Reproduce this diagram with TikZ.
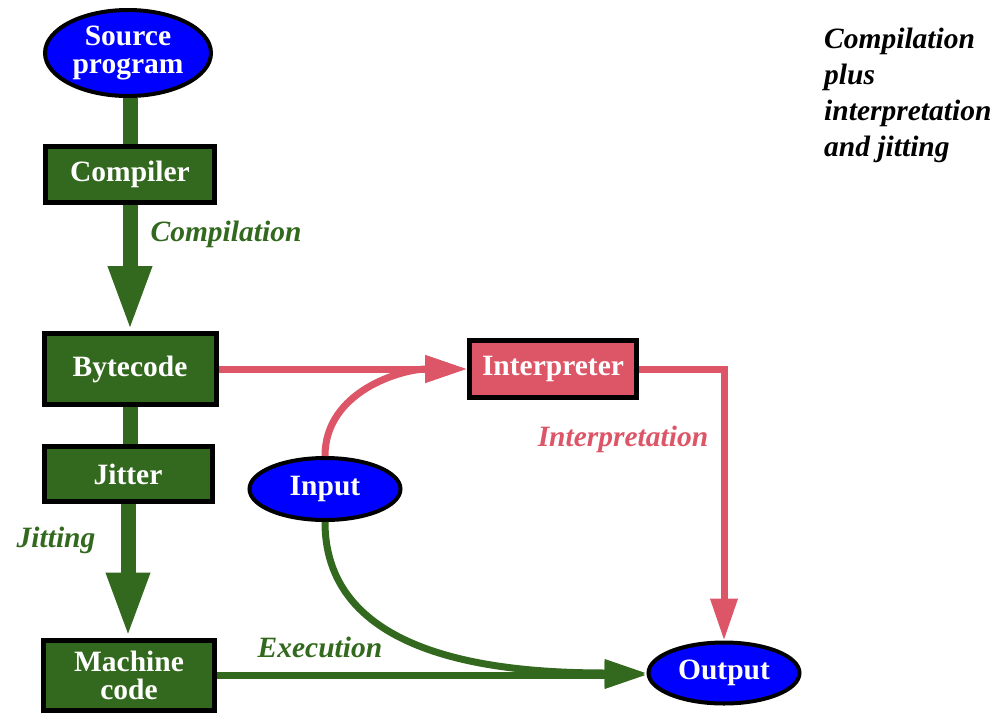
\documentclass[tikz,border=0pt]{standalone}
\usepackage{fontspec}
\setmainfont{Liberation Serif}
\usetikzlibrary{arrows.meta, positioning, calc, shapes.geometric}
\definecolor{JitGreen}{HTML}{33691E}
\definecolor{JitPink}{HTML}{DC5668}
\definecolor{JitBlue}{HTML}{0000FF}

\begin{document}
\begin{tikzpicture}[x=1pt, y=-1pt,
  every node/.style={font=\fontsize{29.5}{28}\selectfont\bfseries},
  stage/.style={draw=black, line width=5pt, fill=JitGreen, text=white, align=center, inner sep=0pt},
  io/.style={ellipse, draw=black, line width=4pt, fill=JitBlue, text=white, align=center, inner sep=0pt},
  iotext/.style={text=white, align=center},
  fat/.style={JitGreen, line width=15pt},
  fatarrow/.style={fat, -{Triangle[length=65pt, width=40pt]}},
  thin/.style={line width=7pt, -{Triangle[length=42pt, width=26pt]}},
  lbl/.style={font=\fontsize{29.5}{28}\selectfont\bfseries\itshape}]
  \useasboundingbox (0,0) rectangle (1002,715);
  % Left column: compiler and jitter chain
  \node[io, minimum width=166pt, minimum height=86pt,
    label={[iotext]center:Source\\program}] (src) at (128,53) {};
  \node[stage, minimum width=169pt, minimum height=56pt] (comp) at (130,174) {Compiler};
  \node[stage, minimum width=172pt, minimum height=71pt] (byte) at (130,369) {Bytecode};
  \node[stage, minimum width=168pt, minimum height=55pt] (jit) at (128,474) {Jitter};
  \node[stage, minimum width=171pt, minimum height=70pt] (mach) at (129,675) {Machine\\code};
  % Right side: interpreter, input and output
  \node[stage, fill=JitPink, minimum width=167pt, minimum height=57pt] (interp) at (553,369) {Interpreter};
  \node[io, minimum width=151pt, minimum height=62pt] (inp) at (325,489) {Input};
  \node[io, minimum width=151pt, minimum height=61pt] (outp) at (724,673) {Output};
  % Fat green arrows
  \draw[fat] (comp.north |- src.south) -- (comp.north);
  \draw[fatarrow] (comp.south) -- (byte.north);
  \draw[fat] (byte.south) -- (byte.south |- jit.north);
  \draw[fatarrow] (jit.south) -- (jit.south |- mach.north);
  % Interpretation path
  \draw[thin, JitPink] (byte.east) -- (interp.west);
  \draw[thin, JitPink] (inp.north) to[out=90, in=180] (interp.west);
  \draw[thin, JitPink] (interp.east) -| (outp.north);
  % Execution path
  \draw[thin, JitGreen] (mach.east) -- (mach.east -| outp.west);
  \draw[thin, JitGreen] (inp.south) to[out=-90, in=180] (outp.west);
  % Labels
  \node[lbl, text=JitGreen] (compl) at (226,234) {Compilation};
  \node[lbl, text=JitGreen] (jitl) at (56,540) {Jitting};
  \node[lbl, text=JitGreen] (execl) at (320,647) {Execution};
  \node[lbl, text=JitPink] (interpl) at (623,439) {Interpretation};
  \node[lbl, anchor=north west, inner sep=0pt, align=left,
    font=\fontsize{29.5}{36}\selectfont\bfseries\itshape] (title) at (824,28)
    {Compilation\\plus\\interpretation\\and jitting};
\end{tikzpicture}
\end{document}
